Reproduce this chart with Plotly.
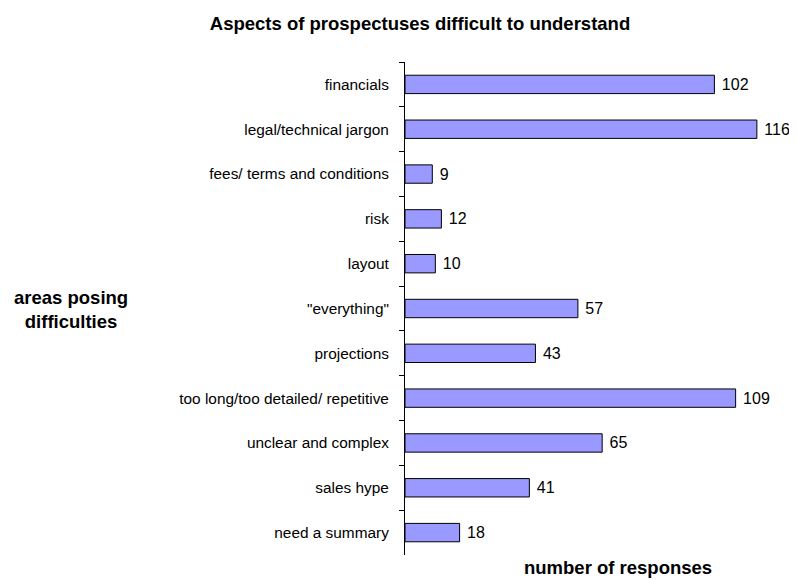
import plotly.graph_objects as go

categories = ["financials", "legal/technical jargon", "fees/ terms and conditions", "risk",
              "layout", "\"everything\"", "projections", "too long/too detailed/ repetitive",
              "unclear and complex", "sales hype", "need a summary"]
values = [102, 116, 9, 12, 10, 57, 43, 109, 65, 41, 18]

FONT = "Liberation Sans, Arial, sans-serif"

# page body has an 8px margin; figure is sized/positioned to compensate
W, H = 789, 572
L, R, T, B = 397, 28, 54, 25
PW, PH = W - L - R, H - T - B

fig = go.Figure(go.Bar(
    x=values, y=categories, orientation="h",
    marker=dict(color="#9999FF", line=dict(color="#000000", width=1)),
    width=0.41,
    text=[" " + str(v) for v in values], textposition="outside",
    textfont=dict(family=FONT, size=16, color="#000"),
    cliponaxis=False,
))

fig.update_layout(
    width=W, height=H,
    margin=dict(l=L, r=R, t=T, b=B, autoexpand=False),
    plot_bgcolor="white", paper_bgcolor="white",
    font=dict(family=FONT, size=15, color="#000"),
    showlegend=False,
    title=dict(text="<b>Aspects of prospectuses difficult to understand</b>",
               x=412/W, xanchor="center", y=1-16/H, yanchor="middle",
               font=dict(family=FONT, size=18.5, color="#000")),
    xaxis=dict(range=[0, 120], visible=False, fixedrange=True),
    yaxis=dict(categoryorder="array", categoryarray=categories, autorange="reversed",
               showline=True, linecolor="#000", linewidth=1,
               ticks="outside", ticklen=5, tickcolor="#000", tickson="boundaries",
               ticklabelstandoff=12, showgrid=False, automargin=False,
               tickfont=dict(family=FONT, size=15.4, color="#000")),
    annotations=[
        dict(text="<b>number of responses</b>", xref="paper", yref="paper",
             x=(610-L)/PW, y=-(559-(T+PH))/PH, xanchor="center", yanchor="middle",
             showarrow=False, font=dict(family=FONT, size=18.5, color="#000")),
        dict(text="<b>areas posing<br>difficulties</b>", xref="paper", yref="paper",
             x=(63-L)/PW, y=1-(301-T)/PH, xanchor="center", yanchor="middle",
             showarrow=False, align="center", font=dict(family=FONT, size=18.5, color="#000")),
    ],
)

fig.write_html("out.html")
